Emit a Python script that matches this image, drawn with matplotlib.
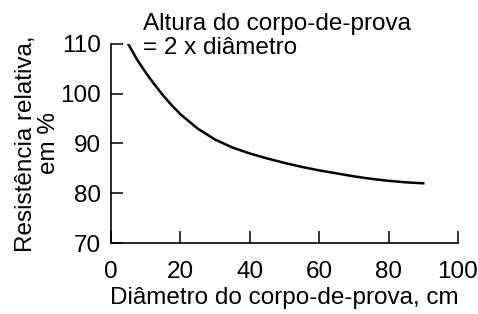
import matplotlib
matplotlib.use("Agg")
import matplotlib.pyplot as plt

# values
diametro = [5, 7.5, 10, 12.5, 15, 17.5, 20, 25, 30, 35, 40, 45, 50, 55, 60, 65, 70, 75, 80, 85, 90]
resistencia = [110, 106.9, 104.3, 101.9, 99.7, 97.7, 95.9, 93.0, 90.8, 89.2, 88.0, 87.0,
               86.1, 85.3, 84.6, 84.0, 83.4, 82.9, 82.5, 82.2, 82.0]

x_ticks = [0, 20, 40, 60, 80, 100]
y_ticks = [70, 80, 90, 100, 110]

plt.rcParams["font.family"] = ["Liberation Sans", "DejaVu Sans"]

fig = plt.figure(figsize=(4.78, 3.14), dpi=100)
ax = fig.add_axes([0.232, 0.226, 0.726, 0.634])

ax.plot(diametro, resistencia, color="black", lw=1.8)

ax.set_xlim(0, 100)
ax.set_ylim(70, 110)
ax.set_xticks(x_ticks)
ax.set_yticks(y_ticks)
ax.spines["top"].set_visible(False)
ax.spines["right"].set_visible(False)
for s in ("left", "bottom"):
    ax.spines[s].set_linewidth(1.2)
ax.tick_params(direction="in", length=8.5, width=1.1, labelsize=17.5, pad=7)
ax.tick_params(axis="x", pad=13)

ax.set_xlabel("Diâmetro do corpo-de-prova, cm", fontsize=17.5, labelpad=3)
ax.set_ylabel("Resistência relativa,\nem %", fontsize=17.5, labelpad=0, linespacing=1.1)

fig.text(0.299, 0.958, "Altura do corpo-de-prova\n= 2 x diâmetro",
         fontsize=17.5, va="top", ha="left", linespacing=1.12)

fig.savefig("out.png", dpi=100)
